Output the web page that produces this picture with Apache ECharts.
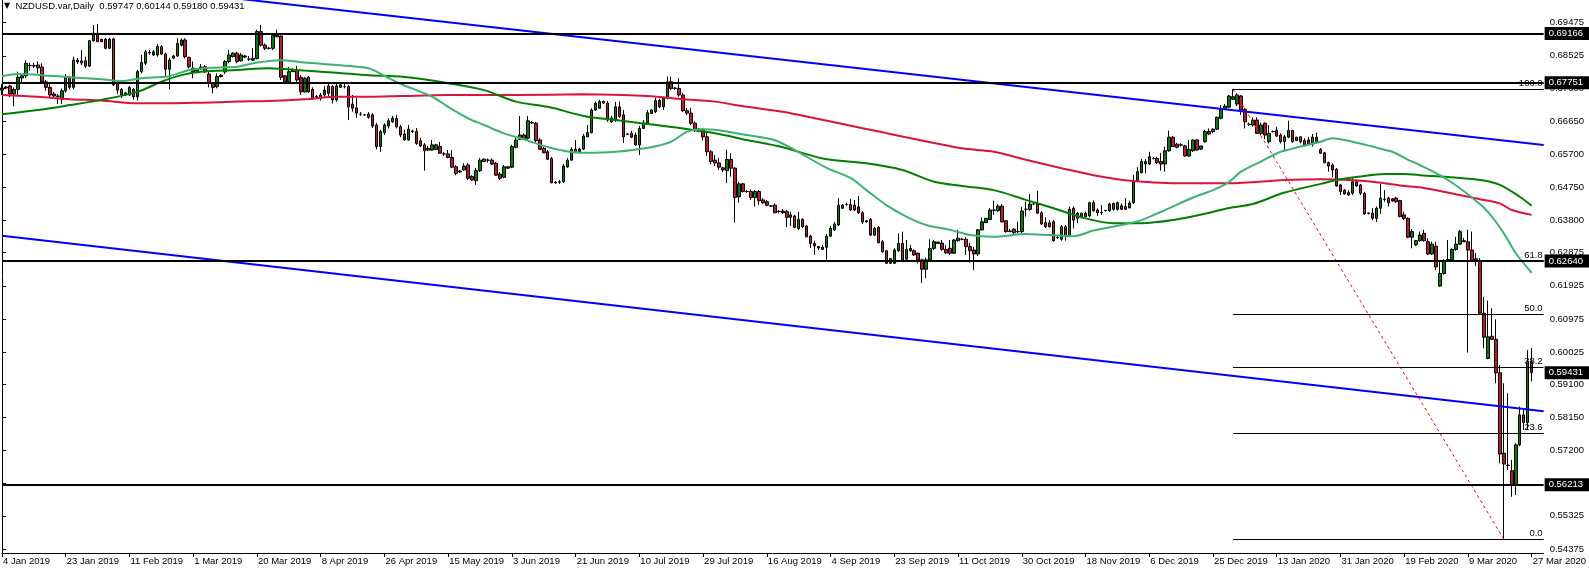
<!DOCTYPE html>
<html><head><meta charset="utf-8">
<script src="https://cdn.jsdelivr.net/npm/echarts@6/dist/echarts.min.js"></script>
<style>html,body{margin:0;padding:0;background:#fff;}#c{width:1589px;height:570px;}</style>
</head><body><div id="c"></div>
<script>
// Daily bars (Sun–Fri), 4 Jan 2019 .. 27 Mar 2020 : [open, high, low, close]
const ohlc = [
[0.6754,0.6772,0.6740,0.6760],[0.6760,0.6766,0.6757,0.6763],[0.6766,0.6769,0.6734,0.6743],[0.6743,0.6762,0.6708,0.6756],[0.6756,0.6807,0.6735,0.6791],[0.6789,0.6800,0.6777,0.6795],
[0.6795,0.6840,0.6789,0.6831],[0.6825,0.6833,0.6810,0.6824],[0.6824,0.6832,0.6818,0.6823],[0.6826,0.6836,0.6802,0.6818],[0.6820,0.6831,0.6772,0.6778],[0.6778,0.6783,0.6752,0.6762],
[0.6762,0.6774,0.6733,0.6740],[0.6743,0.6749,0.6734,0.6737],[0.6737,0.6743,0.6714,0.6736],[0.6728,0.6759,0.6714,0.6752],[0.6752,0.6800,0.6747,0.6791],[0.6791,0.6795,0.6756,0.6762],
[0.6762,0.6850,0.6756,0.6840],[0.6835,0.6846,0.6829,0.6840],[0.6838,0.6869,0.6826,0.6832],[0.6838,0.6850,0.6817,0.6823],[0.6823,0.6898,0.6820,0.6896],[0.6896,0.6941,0.6893,0.6917],
[0.6917,0.6944,0.6893,0.6893],[0.6900,0.6901,0.6892,0.6893],[0.6900,0.6904,0.6871,0.6874],[0.6874,0.6904,0.6872,0.6900],[0.6901,0.6904,0.6766,0.6769],[0.6774,0.6778,0.6743,0.6754],
[0.6756,0.6760,0.6731,0.6740],[0.6740,0.6749,0.6737,0.6746],[0.6740,0.6766,0.6737,0.6762],[0.6756,0.6760,0.6726,0.6735],[0.6735,0.6812,0.6724,0.6807],[0.6807,0.6855,0.6802,0.6833],
[0.6831,0.6869,0.6826,0.6864],[0.6861,0.6869,0.6855,0.6862],[0.6855,0.6869,0.6852,0.6864],[0.6855,0.6886,0.6850,0.6879],[0.6879,0.6883,0.6855,0.6858],[0.6858,0.6861,0.6794,0.6814],
[0.6814,0.6846,0.6756,0.6840],[0.6846,0.6855,0.6843,0.6852],[0.6852,0.6903,0.6849,0.6888],[0.6883,0.6903,0.6879,0.6898],[0.6898,0.6903,0.6845,0.6850],[0.6848,0.6850,0.6817,0.6821],
[0.6817,0.6836,0.6788,0.6806],[0.6809,0.6817,0.6806,0.6815],[0.6815,0.6829,0.6812,0.6820],[0.6821,0.6826,0.6803,0.6807],[0.6800,0.6807,0.6762,0.6774],[0.6774,0.6777,0.6745,0.6762],
[0.6764,0.6802,0.6759,0.6793],[0.6793,0.6800,0.6790,0.6797],[0.6806,0.6840,0.6800,0.6836],[0.6836,0.6869,0.6831,0.6855],[0.6850,0.6863,0.6848,0.6860],[0.6860,0.6864,0.6831,0.6836],
[0.6838,0.6860,0.6836,0.6855],[0.6852,0.6855,0.6846,0.6849],[0.6843,0.6852,0.6838,0.6843],[0.6840,0.6874,0.6838,0.6845],[0.6845,0.6927,0.6842,0.6922],[0.6922,0.6941,0.6879,0.6883],
[0.6883,0.6888,0.6869,0.6874],[0.6874,0.6878,0.6871,0.6874],[0.6874,0.6917,0.6869,0.6912],[0.6912,0.6927,0.6906,0.6907],[0.6909,0.6911,0.6783,0.6791],[0.6795,0.6797,0.6774,0.6778],
[0.6778,0.6821,0.6775,0.6807],[0.6807,0.6817,0.6806,0.6812],[0.6810,0.6823,0.6774,0.6783],[0.6791,0.6797,0.6740,0.6749],[0.6749,0.6791,0.6747,0.6788],[0.6791,0.6795,0.6746,0.6749],
[0.6756,0.6762,0.6726,0.6731],[0.6735,0.6740,0.6731,0.6736],[0.6731,0.6746,0.6724,0.6740],[0.6740,0.6766,0.6735,0.6754],[0.6766,0.6775,0.6735,0.6745],[0.6764,0.6769,0.6716,0.6726],
[0.6726,0.6774,0.6721,0.6766],[0.6762,0.6772,0.6760,0.6769],[0.6764,0.6774,0.6759,0.6764],[0.6764,0.6769,0.6668,0.6706],[0.6714,0.6740,0.6692,0.6702],[0.6703,0.6731,0.6674,0.6688],
[0.6685,0.6691,0.6680,0.6685],[0.6683,0.6685,0.6680,0.6683],[0.6685,0.6691,0.6672,0.6676],[0.6683,0.6688,0.6645,0.6651],[0.6654,0.6660,0.6584,0.6592],[0.6592,0.6640,0.6577,0.6635],
[0.6632,0.6659,0.6625,0.6654],[0.6651,0.6673,0.6644,0.6666],[0.6663,0.6680,0.6660,0.6673],[0.6673,0.6683,0.6644,0.6649],[0.6649,0.6654,0.6619,0.6625],[0.6628,0.6640,0.6609,0.6611],
[0.6611,0.6654,0.6609,0.6642],[0.6637,0.6640,0.6631,0.6635],[0.6635,0.6645,0.6597,0.6601],[0.6609,0.6617,0.6591,0.6594],[0.6597,0.6602,0.6523,0.6580],[0.6587,0.6594,0.6579,0.6582],
[0.6582,0.6611,0.6580,0.6597],[0.6584,0.6600,0.6582,0.6597],[0.6592,0.6605,0.6571,0.6573],[0.6571,0.6576,0.6565,0.6571],[0.6571,0.6582,0.6558,0.6561],[0.6561,0.6582,0.6530,0.6533],
[0.6534,0.6539,0.6510,0.6515],[0.6519,0.6525,0.6516,0.6522],[0.6525,0.6544,0.6523,0.6536],[0.6539,0.6545,0.6496,0.6501],[0.6506,0.6510,0.6494,0.6496],[0.6494,0.6531,0.6482,0.6523],
[0.6523,0.6559,0.6519,0.6553],[0.6549,0.6558,0.6548,0.6556],[0.6553,0.6558,0.6546,0.6553],[0.6553,0.6558,0.6539,0.6542],[0.6544,0.6548,0.6508,0.6510],[0.6513,0.6519,0.6496,0.6501],
[0.6504,0.6539,0.6501,0.6534],[0.6530,0.6536,0.6528,0.6534],[0.6533,0.6597,0.6530,0.6592],[0.6590,0.6620,0.6587,0.6611],[0.6613,0.6680,0.6611,0.6625],[0.6625,0.6630,0.6611,0.6613],
[0.6616,0.6680,0.6611,0.6666],[0.6660,0.6665,0.6657,0.6661],[0.6659,0.6663,0.6605,0.6609],[0.6611,0.6616,0.6582,0.6584],[0.6587,0.6591,0.6573,0.6574],[0.6577,0.6582,0.6553,0.6556],
[0.6558,0.6562,0.6487,0.6488],[0.6490,0.6493,0.6485,0.6488],[0.6491,0.6496,0.6485,0.6490],[0.6491,0.6542,0.6488,0.6536],[0.6534,0.6559,0.6531,0.6553],[0.6553,0.6590,0.6552,0.6584],
[0.6584,0.6611,0.6573,0.6577],[0.6578,0.6588,0.6576,0.6585],[0.6585,0.6628,0.6582,0.6622],[0.6620,0.6654,0.6619,0.6632],[0.6632,0.6702,0.6630,0.6697],[0.6697,0.6721,0.6694,0.6716],
[0.6702,0.6726,0.6700,0.6721],[0.6721,0.6724,0.6714,0.6717],[0.6717,0.6723,0.6663,0.6668],[0.6674,0.6680,0.6660,0.6663],[0.6668,0.6720,0.6663,0.6706],[0.6706,0.6721,0.6674,0.6678],
[0.6683,0.6697,0.6602,0.6620],[0.6628,0.6631,0.6625,0.6627],[0.6630,0.6637,0.6616,0.6619],[0.6625,0.6632,0.6594,0.6597],[0.6597,0.6651,0.6568,0.6644],[0.6644,0.6668,0.6642,0.6659],
[0.6659,0.6697,0.6657,0.6689],[0.6687,0.6699,0.6686,0.6697],[0.6692,0.6731,0.6688,0.6724],[0.6724,0.6729,0.6702,0.6706],[0.6706,0.6735,0.6697,0.6731],[0.6731,0.6793,0.6728,0.6778],
[0.6778,0.6793,0.6754,0.6759],[0.6759,0.6763,0.6755,0.6760],[0.6759,0.6788,0.6735,0.6740],[0.6740,0.6746,0.6691,0.6695],[0.6695,0.6703,0.6683,0.6688],[0.6688,0.6703,0.6654,0.6659],
[0.6659,0.6665,0.6634,0.6640],[0.6635,0.6645,0.6634,0.6642],[0.6640,0.6645,0.6609,0.6620],[0.6620,0.6635,0.6565,0.6577],[0.6577,0.6582,0.6542,0.6549],[0.6553,0.6568,0.6536,0.6545],
[0.6545,0.6559,0.6525,0.6533],[0.6531,0.6534,0.6519,0.6525],[0.6523,0.6582,0.6487,0.6555],[0.6555,0.6573,0.6506,0.6530],[0.6530,0.6533,0.6374,0.6446],[0.6448,0.6491,0.6431,0.6485],
[0.6485,0.6488,0.6460,0.6463],[0.6463,0.6467,0.6459,0.6463],[0.6463,0.6469,0.6439,0.6446],[0.6446,0.6467,0.6420,0.6463],[0.6463,0.6467,0.6424,0.6437],[0.6439,0.6444,0.6427,0.6431],
[0.6434,0.6439,0.6422,0.6424],[0.6422,0.6424,0.6419,0.6421],[0.6424,0.6429,0.6401,0.6402],[0.6405,0.6410,0.6401,0.6406],[0.6407,0.6413,0.6399,0.6402],[0.6405,0.6410,0.6361,0.6389],
[0.6389,0.6405,0.6364,0.6396],[0.6393,0.6396,0.6358,0.6360],[0.6357,0.6405,0.6353,0.6383],[0.6383,0.6386,0.6358,0.6362],[0.6364,0.6367,0.6332,0.6333],[0.6335,0.6338,0.6301,0.6314],
[0.6314,0.6322,0.6281,0.6307],[0.6305,0.6307,0.6295,0.6301],[0.6297,0.6310,0.6295,0.6303],[0.6303,0.6341,0.6267,0.6335],[0.6335,0.6364,0.6333,0.6357],[0.6353,0.6376,0.6350,0.6370],
[0.6367,0.6444,0.6364,0.6424],[0.6415,0.6427,0.6413,0.6424],[0.6426,0.6431,0.6422,0.6426],[0.6426,0.6441,0.6408,0.6410],[0.6424,0.6439,0.6407,0.6410],[0.6419,0.6450,0.6399,0.6402],
[0.6402,0.6407,0.6370,0.6376],[0.6376,0.6381,0.6373,0.6379],[0.6383,0.6387,0.6335,0.6338],[0.6338,0.6362,0.6335,0.6357],[0.6360,0.6364,0.6315,0.6316],[0.6319,0.6324,0.6288,0.6290],
[0.6293,0.6295,0.6255,0.6257],[0.6257,0.6272,0.6255,0.6271],[0.6257,0.6300,0.6255,0.6295],[0.6293,0.6343,0.6290,0.6314],[0.6314,0.6348,0.6262,0.6267],[0.6269,0.6324,0.6267,0.6297],
[0.6293,0.6310,0.6290,0.6300],[0.6293,0.6297,0.6278,0.6281],[0.6286,0.6288,0.6257,0.6267],[0.6267,0.6270,0.6201,0.6240],[0.6240,0.6273,0.6215,0.6267],[0.6267,0.6326,0.6262,0.6300],
[0.6300,0.6324,0.6295,0.6319],[0.6318,0.6319,0.6313,0.6314],[0.6315,0.6324,0.6293,0.6297],[0.6297,0.6310,0.6284,0.6287],[0.6300,0.6324,0.6281,0.6286],[0.6286,0.6326,0.6284,0.6324],
[0.6322,0.6353,0.6319,0.6329],[0.6326,0.6330,0.6323,0.6326],[0.6326,0.6333,0.6281,0.6305],[0.6305,0.6316,0.6259,0.6293],[0.6295,0.6304,0.6238,0.6284],[0.6284,0.6355,0.6278,0.6353],
[0.6353,0.6389,0.6351,0.6376],[0.6374,0.6387,0.6373,0.6386],[0.6383,0.6415,0.6381,0.6410],[0.6410,0.6437,0.6396,0.6409],[0.6408,0.6427,0.6405,0.6421],[0.6421,0.6427,0.6374,0.6376],
[0.6379,0.6381,0.6345,0.6348],[0.6350,0.6356,0.6347,0.6348],[0.6355,0.6358,0.6341,0.6345],[0.6348,0.6376,0.6343,0.6348],[0.6348,0.6418,0.6343,0.6407],[0.6412,0.6434,0.6391,0.6412],
[0.6412,0.6456,0.6408,0.6427],[0.6427,0.6430,0.6424,0.6427],[0.6427,0.6465,0.6399,0.6401],[0.6402,0.6407,0.6367,0.6370],[0.6374,0.6389,0.6358,0.6362],[0.6373,0.6381,0.6360,0.6362],
[0.6376,0.6381,0.6319,0.6322],[0.6332,0.6335,0.6327,0.6331],[0.6326,0.6367,0.6322,0.6362],[0.6362,0.6367,0.6322,0.6338],[0.6335,0.6420,0.6333,0.6412],[0.6415,0.6420,0.6357,0.6381],
[0.6401,0.6404,0.6372,0.6386],[0.6391,0.6401,0.6390,0.6401],[0.6401,0.6405,0.6389,0.6391],[0.6393,0.6434,0.6389,0.6431],[0.6431,0.6437,0.6405,0.6408],[0.6410,0.6415,0.6393,0.6402],
[0.6402,0.6424,0.6396,0.6403],[0.6408,0.6410,0.6406,0.6409],[0.6408,0.6431,0.6405,0.6427],[0.6429,0.6431,0.6408,0.6412],[0.6412,0.6434,0.6408,0.6431],[0.6422,0.6429,0.6410,0.6412],
[0.6420,0.6444,0.6410,0.6412],[0.6416,0.6437,0.6415,0.6430],[0.6431,0.6510,0.6427,0.6494],[0.6494,0.6533,0.6491,0.6520],[0.6517,0.6556,0.6515,0.6549],[0.6542,0.6556,0.6515,0.6549],
[0.6542,0.6577,0.6539,0.6563],[0.6558,0.6562,0.6555,0.6558],[0.6558,0.6563,0.6542,0.6546],[0.6549,0.6574,0.6523,0.6542],[0.6542,0.6592,0.6520,0.6580],[0.6580,0.6638,0.6577,0.6619],
[0.6619,0.6622,0.6592,0.6592],[0.6599,0.6603,0.6587,0.6590],[0.6597,0.6602,0.6592,0.6596],[0.6594,0.6597,0.6563,0.6565],[0.6565,0.6611,0.6563,0.6584],[0.6580,0.6613,0.6577,0.6611],
[0.6611,0.6613,0.6580,0.6582],[0.6585,0.6594,0.6582,0.6594],[0.6606,0.6640,0.6603,0.6635],[0.6635,0.6644,0.6625,0.6628],[0.6635,0.6644,0.6630,0.6642],[0.6642,0.6678,0.6640,0.6676],
[0.6673,0.6711,0.6670,0.6699],[0.6702,0.6714,0.6697,0.6708],[0.6705,0.6740,0.6702,0.6737],[0.6728,0.6757,0.6726,0.6735],[0.6714,0.6745,0.6708,0.6740],[0.6737,0.6740,0.6683,0.6697],
[0.6699,0.6703,0.6644,0.6663],[0.6656,0.6661,0.6651,0.6656],[0.6654,0.6676,0.6649,0.6668],[0.6668,0.6676,0.6628,0.6630],[0.6630,0.6661,0.6625,0.6654],[0.6659,0.6661,0.6613,0.6625],
[0.6606,0.6654,0.6601,0.6630],[0.6635,0.6638,0.6633,0.6635],[0.6638,0.6649,0.6620,0.6622],[0.6625,0.6630,0.6601,0.6606],[0.6606,0.6625,0.6582,0.6620],[0.6619,0.6666,0.6616,0.6638],
[0.6638,0.6640,0.6603,0.6606],[0.6609,0.6619,0.6608,0.6619],[0.6620,0.6622,0.6601,0.6606],[0.6609,0.6616,0.6592,0.6597],[0.6611,0.6620,0.6597,0.6599],[0.6599,0.6628,0.6592,0.6619],
[0.6619,0.6632,0.6600,0.6606],[0.6584,0.6588,0.6571,0.6573],[0.6574,0.6577,0.6544,0.6546],[0.6546,0.6549,0.6520,0.6536],[0.6539,0.6544,0.6504,0.6525],[0.6527,0.6530,0.6477,0.6479],
[0.6482,0.6485,0.6453,0.6463],[0.6467,0.6470,0.6455,0.6456],[0.6460,0.6467,0.6450,0.6453],[0.6458,0.6501,0.6453,0.6491],[0.6491,0.6498,0.6477,0.6479],[0.6482,0.6485,0.6453,0.6458],
[0.6458,0.6462,0.6396,0.6399],[0.6401,0.6404,0.6397,0.6400],[0.6401,0.6415,0.6381,0.6386],[0.6386,0.6420,0.6376,0.6415],[0.6415,0.6485,0.6399,0.6444],[0.6441,0.6467,0.6434,0.6440],
[0.6444,0.6448,0.6420,0.6431],[0.6436,0.6444,0.6434,0.6442],[0.6444,0.6448,0.6431,0.6434],[0.6437,0.6439,0.6389,0.6391],[0.6396,0.6405,0.6381,0.6386],[0.6386,0.6389,0.6329,0.6332],
[0.6332,0.6355,0.6300,0.6348],[0.6310,0.6324,0.6307,0.6322],[0.6322,0.6348,0.6319,0.6338],[0.6343,0.6353,0.6319,0.6322],[0.6319,0.6329,0.6281,0.6284],[0.6284,0.6319,0.6281,0.6312],
[0.6306,0.6319,0.6238,0.6247],[0.6192,0.6265,0.6190,0.6228],[0.6228,0.6269,0.6224,0.6265],[0.6267,0.6324,0.6265,0.6268],[0.6267,0.6300,0.6265,0.6297],[0.6297,0.6333,0.6293,0.6312],
[0.6312,0.6353,0.6310,0.6348],[0.6322,0.6330,0.6318,0.6319],[0.6319,0.6353,0.6001,0.6295],[0.6295,0.6348,0.6261,0.6265],[0.6265,0.6287,0.6249,0.6270],[0.6265,0.6272,0.6109,0.6114],
[0.6114,0.6161,0.6013,0.6045],[0.5984,0.6150,0.5982,0.6046],[0.6048,0.6128,0.6037,0.6039],[0.6039,0.6096,0.5913,0.5943],[0.5943,0.5965,0.5683,0.5710],[0.5712,0.5913,0.5466,0.5681],
[0.5678,0.5884,0.5664,0.5677],[0.5662,0.5693,0.5587,0.5621],[0.5621,0.5741,0.5592,0.5736],[0.5736,0.5846,0.5733,0.5822],[0.5822,0.5841,0.5779,0.5800],[0.5800,0.6008,0.5779,0.5975],
[0.59747,0.60144,0.59180,0.59431]
];

// Moving averages: [bar index, price]
const maFast = [[0,0.6794],[4,0.6800],[10,0.6797],[17,0.6791],[25,0.6785],[30,0.6780],[35,0.6788],[42,0.6794],[47,0.6812],[52,0.6818],[59,0.6821],[64,0.6833],[70,0.6840],[76,0.6833],[84,0.6826],[92,0.6817],[96,0.6795],[100,0.6772],[104,0.6754],[108,0.6735],[112,0.6706],[117,0.6673],[121,0.6654],[126,0.6630],[131,0.6613],[136,0.6594],[141,0.6580],[146,0.6574],[154,0.6577],[163,0.6590],[168,0.6606],[172,0.6635],[176,0.6642],[179,0.6640],[187,0.6625],[194,0.6610],[199,0.6582],[207,0.6531],[213,0.6502],[217,0.6467],[222,0.6424],[227,0.6391],[232,0.6367],[238,0.6353],[243,0.6338],[249,0.6333],[257,0.6341],[263,0.6338],[269,0.6335],[274,0.6351],[281,0.6367],[286,0.6381],[291,0.6405],[299,0.6446],[304,0.6467],[308,0.6490],[311,0.6520],[316,0.6549],[321,0.6577],[326,0.6592],[331,0.6606],[334,0.6616],[339,0.6606],[344,0.6592],[349,0.6577],[353,0.6554],[356,0.6539],[363,0.6496],[371,0.6427],[374,0.6391],[377,0.6343],[380,0.6286],[384,0.6230]];
const maMid = [[0,0.6685],[9,0.6697],[17,0.6711],[25,0.6726],[34,0.6749],[40,0.6778],[45,0.6797],[50,0.6807],[59,0.6812],[67,0.6817],[76,0.6810],[84,0.6804],[92,0.6797],[100,0.6793],[104,0.6788],[112,0.6774],[121,0.6754],[129,0.6721],[137,0.6706],[146,0.6680],[154,0.6668],[162,0.6657],[171,0.6644],[179,0.6630],[187,0.6611],[196,0.6590],[206,0.6558],[217,0.6544],[226,0.6525],[234,0.6491],[241,0.6479],[249,0.6467],[257,0.6439],[264,0.6415],[272,0.6386],[279,0.6372],[286,0.6372],[294,0.6381],[302,0.6399],[308,0.6416],[314,0.6427],[322,0.6460],[331,0.6485],[336,0.6498],[341,0.6506],[347,0.6513],[352,0.6513],[356,0.6510],[371,0.6496],[376,0.6482],[381,0.6448],[384,0.6422]];
const maSlow = [[0,0.6740],[9,0.6735],[17,0.6728],[25,0.6724],[34,0.6716],[42,0.6716],[50,0.6718],[59,0.6721],[67,0.6723],[76,0.6728],[84,0.6735],[92,0.6735],[100,0.6737],[112,0.6740],[129,0.6740],[146,0.6742],[162,0.6737],[171,0.6728],[179,0.6721],[187,0.6706],[196,0.6692],[218,0.6640],[241,0.6587],[249,0.6577],[257,0.6554],[266,0.6530],[274,0.6510],[284,0.6493],[294,0.6487],[308,0.6487],[322,0.6496],[331,0.6498],[341,0.6494],[347,0.6487],[352,0.6479],[356,0.6475],[371,0.6441],[376,0.6429],[379,0.6410],[384,0.6396]];

// Drawn objects
const channelUpper = [[0,0.70923],[387,0.65962]];
const channelLower = [[0,0.63360],[387,0.58327]];
const hLevels = [0.69166, 0.67751, 0.62640, 0.56213];
const lastPrice = 0.59431;
const fibStart = 309, fibEnd = 377;
const fibLabels = ['100.0','61.8','50.0','38.2','23.6','0.0'];
const fibPrices = [0.67567, 0.62634, 0.61110, 0.59587, 0.57701, 0.54654];
const yTicks = [0.54375,0.55325,0.56250,0.57200,0.58150,0.59100,0.60025,0.60975,0.61925,0.62875,0.63800,0.64750,0.65700,0.66650,0.67600,0.68525,0.69475];
const titleText = 'NZDUSD.var,Daily  0.59747 0.60144 0.59180 0.59431';

const MONTHS = ['Jan','Feb','Mar','Apr','May','Jun','Jul','Aug','Sep','Oct','Nov','Dec'];
const NCAT = 388;
const categories = [];
(function(){ let t = Date.UTC(2019,0,4); while (categories.length < NCAT) { const d = new Date(t); if (d.getUTCDay() !== 6) categories.push(d.getUTCDate()+' '+MONTHS[d.getUTCMonth()]+' '+d.getUTCFullYear()); t += 86400000; } })();

const FONT = 'Liberation Sans';
const candleData = ohlc.map(r => [r[0], r[3], r[2], r[1]]);

const boxLabel = (txt) => ({ show: true, position: 'end', distance: 1, formatter: txt, backgroundColor: '#000', color: '#fff', padding: [2, 8, 1, 4], fontSize: 9.5, fontFamily: FONT });
const hLines = hLevels.map(v => ({
  yAxis: v,
  lineStyle: { color: '#000', width: 2, type: 'solid' },
  label: boxLabel(v.toFixed(5))
}));
const priceLine = [
  { coord: [386.8, lastPrice], lineStyle: { color: '#000', width: 0.1 }, label: boxLabel(lastPrice.toFixed(5)) },
  { coord: [387, lastPrice] }
];
const fibLines = fibPrices.map((p, k) => [
  { coord: [fibStart, p], lineStyle: { color: '#000', width: 1, type: 'solid' }, label: { show: true, position: 'insideEndTop', distance: 1, formatter: fibLabels[k], color: '#000', fontSize: 9.5, fontFamily: FONT } },
  { coord: [387, p] }
]);

const chart = echarts.init(document.getElementById('c'), null, { renderer: 'canvas' });
chart.setOption({
  animation: false,
  backgroundColor: '#fff',
  title: {
    text: '{tri|▼}  ' + titleText, left: 2, top: 0, padding: [1, 2],
    textStyle: { fontSize: 9.5, fontWeight: 'normal', color: '#000', fontFamily: FONT, rich: { tri: { fontSize: 8, color: '#000', fontFamily: 'DejaVu Sans' } } }
  },
  grid: { left: -2, right: 44, top: 0, bottom: 17, containLabel: false },
  xAxis: [
    { type: 'category', data: categories, boundaryGap: false,
      axisLine: { show: true, lineStyle: { color: '#000', width: 1 } },
      axisTick: { show: true, interval: 15, length: 4, lineStyle: { color: '#000' } },
      axisLabel: { interval: 15, align: 'left', margin: 3, padding: [0, 0, 0, 1], color: '#000', fontSize: 9.5, fontFamily: FONT },
      splitLine: { show: false } },
    { type: 'value', min: 0, max: NCAT - 1, show: false }
  ],
  yAxis: {
    type: 'value', position: 'right', min: 0.54258, max: 0.70126,
    splitLine: { show: false },
    axisLine: { show: true, lineStyle: { color: '#000', width: 1 } },
    axisTick: { show: true, customValues: yTicks, length: 4, lineStyle: { color: '#000' } },
    axisLabel: { customValues: yTicks, formatter: v => v.toFixed(5), margin: 6, color: '#000', fontSize: 9.5, fontFamily: FONT }
  },
  series: [
    { type: 'candlestick', xAxisIndex: 0, data: candleData, barWidth: 3, z: 2, silent: true,
      itemStyle: { color: '#008000', color0: '#C0182A', borderColor: '#000', borderColor0: '#000', borderWidth: 1 } },
    { type: 'line', xAxisIndex: 1, data: maSlow, showSymbol: false, smooth: 0.3, z: 3, silent: true, lineStyle: { color: '#DC143C', width: 2 } },
    { type: 'line', xAxisIndex: 1, data: maMid, showSymbol: false, smooth: 0.3, z: 3, silent: true, lineStyle: { color: '#008000', width: 2 } },
    { type: 'line', xAxisIndex: 1, data: maFast, showSymbol: false, smooth: 0.3, z: 3, silent: true, lineStyle: { color: '#3CB371', width: 2 } },
    { type: 'line', xAxisIndex: 1, data: channelUpper, showSymbol: false, z: 4, silent: true, lineStyle: { color: '#0000FF', width: 2 } },
    { type: 'line', xAxisIndex: 1, data: channelLower, showSymbol: false, z: 4, silent: true, lineStyle: { color: '#0000FF', width: 2 } },
    { type: 'line', xAxisIndex: 1, data: [[fibStart, fibPrices[0]], [fibEnd, fibPrices[5]]], showSymbol: false, z: 4, silent: true, lineStyle: { color: '#FF0000', width: 1, type: [3, 3] } },
    { type: 'line', xAxisIndex: 1, data: [], clip: false, z: 5, silent: true,
      markLine: { symbol: ['none', 'none'], precision: 6, silent: true, animation: false, data: hLines.concat([priceLine]).concat(fibLines) } }
  ]
});
</script>
</body></html>
